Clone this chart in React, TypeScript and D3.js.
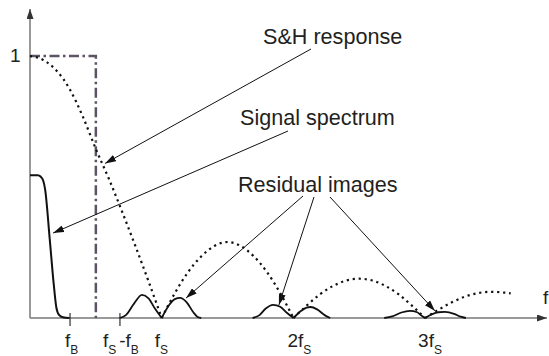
import React from "react";
import * as d3 from "d3";

// ---- data (frequency in units of fs, magnitude normalised to 1) ----
const shIdeal: [number, number][] = [[0, 1], [0.5, 1], [0.5, 0]];

const sincLobe1: [number, number][] = [[0, 1], [0.1, 0.985], [0.2, 0.945], [0.3, 0.875], [0.4, 0.77], [0.5, 0.645], [0.6, 0.53], [0.7, 0.405], [0.8, 0.275], [0.9, 0.14], [1.0, 0]];
const sincLobe2: [number, number][] = [[1.0, 0], [1.1, 0.095], [1.2, 0.175], [1.3, 0.235], [1.4, 0.275], [1.5, 0.29], [1.6, 0.275], [1.7, 0.235], [1.8, 0.175], [1.9, 0.095], [2.0, 0]];
const sincLobe3: [number, number][] = [[2.0, 0], [2.1, 0.047], [2.2, 0.09], [2.3, 0.122], [2.4, 0.143], [2.5, 0.15], [2.6, 0.143], [2.7, 0.122], [2.8, 0.09], [2.9, 0.047], [3.0, 0]];
const sincLobe4: [number, number][] = [[3.0, 0], [3.1, 0.031], [3.2, 0.059], [3.3, 0.081], [3.4, 0.095], [3.5, 0.1], [3.6, 0.097], [3.65, 0.094]];

const signalSpectrum: [number, number][] = [[0, 0.545], [0.06, 0.545], [0.08, 0.54], [0.1, 0.525], [0.115, 0.49], [0.15, 0.3], [0.18, 0.13], [0.2, 0.04], [0.22, 0.012], [0.25, 0.003], [0.3, 0]];

const imageFsLeft: [number, number][] = [[0.68, 0], [0.73, 0.012], [0.79, 0.055], [0.85, 0.088], [0.9, 0.075], [0.95, 0.035], [1.0, 0]];
const imageFsRight: [number, number][] = [[1.0, 0], [1.05, 0.045], [1.1, 0.072], [1.14, 0.077], [1.19, 0.06], [1.24, 0.022], [1.27, 0.005], [1.3, 0]];
const image2FsLeft: [number, number][] = [[1.69, 0], [1.74, 0.01], [1.79, 0.036], [1.845, 0.05], [1.9, 0.043], [1.95, 0.02], [2.0, 0]];
const image2FsRight: [number, number][] = [[2.0, 0], [2.05, 0.024], [2.1, 0.04], [2.13, 0.042], [2.18, 0.033], [2.24, 0.01], [2.28, 0]];
const image3FsLeft: [number, number][] = [[2.69, 0], [2.75, 0.006], [2.82, 0.021], [2.885, 0.027], [2.94, 0.022], [2.97, 0.01], [3.0, 0]];
const image3FsRight: [number, number][] = [[3.0, 0], [3.05, 0.014], [3.1, 0.022], [3.15, 0.023], [3.22, 0.016], [3.27, 0.005], [3.31, 0]];

const tickPositions = [0.304, 0.683];
const tickLabels = [
  { f: 0.304, pre: "f", sub: "B", mid: "", sub2: "" },
  { f: 0.683, pre: "f", sub: "S", mid: "-f", sub2: "B" },
  { f: 1.0, pre: "f", sub: "S", mid: "", sub2: "" },
  { f: 2.0, pre: "2f", sub: "S", mid: "", sub2: "" },
  { f: 3.0, pre: "3f", sub: "S", mid: "", sub2: "" },
];
const labelDx = [-5, -17, -7, -6, -7];

const annotations = [
  { text: "S&H response", targets: [[0.57, 0.59]] },
  { text: "Signal spectrum", targets: [[0.175, 0.324]] },
  { text: "Residual images", targets: [[1.185, 0.076], [1.89, 0.05], [3.075, 0.027]] },
];

// ---- layout ----
const W = 549, H = 356;
const x0 = 30, y0 = 318;
const fsPx = 131.7;
const xScale = d3.scaleLinear().domain([0, 1]).range([x0, x0 + fsPx]);
const yScale = d3.scaleLinear().domain([0, 1]).range([y0, 56]);

const annoLayout = [
  { tx: 263, ty: 44, starts: [[311, 49]] },
  { tx: 240, ty: 125, starts: [[288, 131]] },
  { tx: 238, ty: 192, starts: [[303, 196], [314, 197], [330, 197]] },
];

const font = "'Liberation Sans', Arial, Helvetica, sans-serif";
const textColor = "#231f20";

const line = d3.line<[number, number]>().x(d => xScale(d[0])).y(d => yScale(d[1])).curve(d3.curveMonotoneX);
const lineLinear = d3.line<[number, number]>().x(d => xScale(d[0])).y(d => yScale(d[1]));

export default function App() {
  const lobes = [sincLobe1, sincLobe2, sincLobe3, sincLobe4];
  const images = [imageFsLeft, imageFsRight, image2FsLeft, image2FsRight, image3FsLeft, image3FsRight];
  return (
    <svg width={W} height={H} style={{ position: "absolute", left: 0, top: 0, background: "#fff" }} fontFamily={font}>
      <defs>
        <marker id="arr" viewBox="0 0 11 7" refX="11" refY="3.5" markerWidth="11" markerHeight="7" markerUnits="userSpaceOnUse" orient="auto">
          <path d="M0,0 L11,3.5 L0,7 Z" fill="#111" />
        </marker>
        <marker id="axArr" viewBox="0 0 10 7" refX="10" refY="3.5" markerWidth="10" markerHeight="7" markerUnits="userSpaceOnUse" orient="auto">
          <path d="M0,0 L10,3.5 L0,7 Z" fill="#333" />
        </marker>
      </defs>

      {/* axes */}
      <line x1={x0} y1={y0} x2={x0} y2={9} stroke="#777" strokeWidth={1.5} markerEnd="url(#axArr)" />
      <line x1={x0} y1={y0} x2={547} y2={y0} stroke="#777" strokeWidth={1.5} markerEnd="url(#axArr)" />

      {/* ticks */}
      {tickPositions.map((f, i) => (
        <line key={i} x1={xScale(f)} x2={xScale(f)} y1={y0 - 5} y2={y0 + 8} stroke="#333" strokeWidth={1.2} />
      ))}

      {/* ideal S&H (brick wall) */}
      <path d={lineLinear(shIdeal) || ""} fill="none" stroke="#5c5364" strokeWidth={2.5} strokeDasharray="10,3.5,2.5,3.5" />

      {/* sinc envelope */}
      {lobes.map((l, i) => (
        <path key={i} d={line(l) || ""} fill="none" stroke="#111" strokeWidth={2.2} strokeDasharray="2.2,3.8" />
      ))}

      {/* signal spectrum */}
      <path d={line(signalSpectrum) || ""} fill="none" stroke="#111" strokeWidth={2} />

      {/* residual images */}
      {images.map((b, i) => (
        <path key={i} d={line(b) || ""} fill="none" stroke="#111" strokeWidth={1.8} />
      ))}

      {/* "1" label */}
      <text x={10} y={62} fontSize={19} fill={textColor}>1</text>
      {/* f axis label */}
      <text x={543} y={304} fontSize={19} fill={textColor}>f</text>

      {/* tick labels */}
      {tickLabels.map((t, i) => (
        <text key={i} x={xScale(t.f) + labelDx[i]} y={347} fontSize={19} fill={textColor}>
          {t.pre}
          <tspan fontSize={12} dy={7}>{t.sub}</tspan>
          {t.mid ? <tspan dy={-7} dx={3}>{t.mid}</tspan> : null}
          {t.sub2 ? <tspan fontSize={12} dy={7}>{t.sub2}</tspan> : null}
        </text>
      ))}

      {/* annotations */}
      {annotations.map((a, i) => (
        <g key={i}>
          <text x={annoLayout[i].tx} y={annoLayout[i].ty} fontSize={21.6} fill={textColor}>{a.text}</text>
          {a.targets.map((t, j) => (
            <line key={j} x1={annoLayout[i].starts[j][0]} y1={annoLayout[i].starts[j][1]} x2={xScale(t[0])} y2={yScale(t[1])} stroke="#111" strokeWidth={1} markerEnd="url(#arr)" />
          ))}
        </g>
      ))}
    </svg>
  );
}
